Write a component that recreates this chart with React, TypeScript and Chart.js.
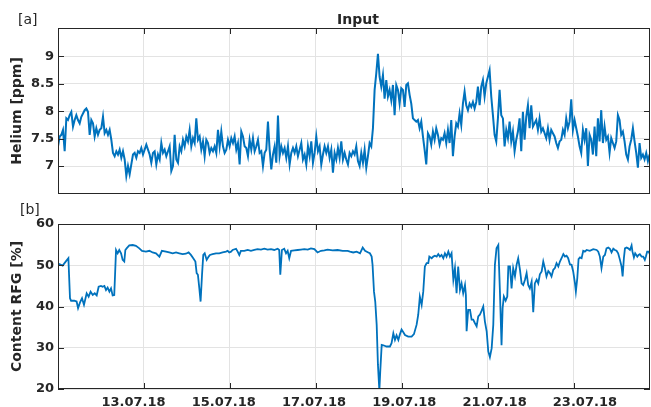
import React, { useEffect, useRef } from 'react';
import { Chart, registerables } from 'chart.js';

Chart.register(...registerables);

const FONT = '"DejaVu Sans", sans-serif';
const INK = '#262626';
const GRID = '#e3e3e3';
const LINE = '#0072BD';
const TICK_LEN = 6;
const LABEL_SPREAD = 1.05;

// x axis: days since 11.07.18 00:00
const X_MIN_DAYS = 0;
const X_MAX_DAYS = 13.77;
const DATE_TICK_DAYS = [2, 4, 6, 8, 10, 12];
const DATE_LABELS = ['13.07.18', '15.07.18', '17.07.18', '19.07.18', '21.07.18', '23.07.18'];

// [a] Helium, evenly sampled
const HELIUM_TICKS = [7, 7.5, 8, 8.5, 9];
const HELIUM_MIN = 6.49;
const HELIUM_MAX = 9.52;
const HELIUM_STEP_DAYS = 0.03876;
const HELIUM = [
  7.36, 7.54, 7.57, 7.66, 7.27, 7.87, 7.84, 7.93, 7.99, 7.72,
  7.84, 7.93, 7.84, 7.78, 7.90, 7.96, 8.02, 8.05, 7.99, 7.57,
  7.84, 7.78, 7.54, 7.69, 7.57, 7.66, 7.69, 7.90, 7.60, 7.66,
  7.57, 7.66, 7.48, 7.24, 7.18, 7.27, 7.21, 7.30, 7.15, 7.27,
  7.12, 6.82, 7.00, 6.85, 7.03, 7.21, 7.24, 7.15, 7.27, 7.24,
  7.33, 7.21, 7.30, 7.39, 7.30, 7.21, 7.06, 7.24, 7.27, 7.03,
  7.21, 7.12, 7.42, 7.24, 7.30, 7.18, 7.27, 7.36, 6.91, 7.00,
  7.57, 7.12, 7.06, 7.36, 7.27, 7.48, 7.36, 7.54, 7.45, 7.66,
  7.36, 7.51, 7.42, 7.87, 7.48, 7.54, 7.30, 7.45, 7.18, 7.48,
  7.42, 7.24, 7.33, 7.27, 7.36, 7.24, 7.66, 7.36, 7.63, 7.36,
  7.24, 7.30, 7.48, 7.36, 7.51, 7.42, 7.54, 7.30, 7.42, 7.03,
  7.63, 7.54, 7.36, 7.33, 7.18, 7.48, 7.30, 7.51, 7.27, 7.36,
  7.48, 7.24, 7.27, 7.00, 7.24, 7.30, 7.81, 7.30, 6.94, 7.21,
  7.36, 7.06, 7.92, 7.18, 7.36, 7.24, 7.33, 7.15, 7.36, 7.03,
  7.24, 7.33, 7.24, 7.36, 7.18, 7.30, 7.42, 7.12, 7.21, 7.03,
  7.36, 7.18, 7.45, 7.06, 7.24, 7.54, 7.27, 7.36, 7.03, 7.21,
  7.36, 7.24, 7.36, 7.15, 7.30, 6.88, 7.24, 7.12, 7.33, 7.15,
  7.45, 7.12, 7.24, 7.12, 7.03, 7.24, 7.18, 7.27, 7.21,
  7.36, 7.09, 7.00, 7.24, 7.06, 7.30, 6.97, 7.18, 7.42, 7.36,
  7.69, 8.39, 8.69, 9.05, 8.63, 8.45, 8.66, 8.23, 8.57, 8.27,
  8.39, 8.20, 8.48, 7.93, 8.48, 8.39, 8.14, 8.42, 8.39, 8.08,
  8.48, 8.51, 8.30, 8.14, 7.87, 7.84, 7.81, 7.84, 7.69, 7.81,
  7.54, 7.30, 7.03, 7.60, 7.54, 7.39, 7.63, 7.48, 7.69, 7.57,
  7.39, 7.51, 7.48, 7.60, 7.42, 7.66, 7.42, 7.84, 7.18, 7.54,
  7.78, 7.72, 7.96, 7.75, 8.14, 8.36, 8.11, 8.02, 8.14, 8.08,
  8.17, 8.05, 8.17, 8.45, 8.11, 8.45, 8.57, 8.27, 8.51, 8.63,
  8.75, 8.27, 7.93, 7.57, 7.45, 7.87, 8.39, 7.93, 7.87,
  7.36, 7.66, 7.51, 7.81, 7.45, 7.63, 7.27, 7.48, 7.63, 7.87,
  7.27, 7.99, 7.48, 7.90, 8.11, 7.69, 8.11, 7.72, 7.78, 7.84,
  7.66, 7.87, 7.63, 7.69, 7.60, 7.51, 7.69, 7.48, 7.66, 7.60,
  7.54, 7.42, 7.33, 7.45, 7.48, 7.66, 7.57, 7.87, 7.69, 7.81,
  8.22, 7.66, 7.84, 7.69, 7.54, 7.36, 7.24, 7.66, 7.48, 7.69,
  7.00, 7.57, 7.48, 7.21, 7.72, 7.18, 7.87, 7.45, 8.02, 7.42,
  7.72, 7.48, 7.54, 7.24, 7.51, 7.42, 7.33, 7.45, 7.93, 7.84,
  7.57, 7.63, 7.45, 7.21, 7.12, 7.36, 7.48, 7.69, 7.45, 7.24,
  6.97, 7.42, 7.15, 7.21, 7.12, 7.24, 7.09, 7.21,
];

// [b] Content RFG, hours since 11.07.18 00:00
const RFG_TICKS = [20, 30, 40, 50, 60];
const RFG_MIN = 20;
const RFG_MAX = 60;
const RFG_HOURS = [
  0, 0.7, 2.6, 4.5, 5.8, 6.7, 7.3, 9.1, 10.4, 11.2,
  12.3, 13.4, 14.5, 16.0, 17.1, 18.2, 19.4, 20.5, 21.6, 22.7,
  24.0, 24.9, 25.9, 26.8, 27.7, 28.7, 29.6, 30.5, 31.4, 32.4,
  33.3, 34.2, 35.2, 36.1, 37.0, 37.6, 38.3, 39.8, 41.7, 43.5,
  45.4, 46.9, 49.1, 51.0, 52.8, 54.7, 56.6, 58.0, 60.3, 62.1,
  64.0, 65.9, 67.7, 69.6, 71.4, 72.9, 74.2, 75.5, 76.7, 77.4,
  78.1, 78.9, 79.6, 80.4, 81.1, 81.9, 83.0, 84.1, 84.8, 86.3,
  88.2, 90.0, 91.9, 93.8, 94.7, 95.6, 96.6, 97.5, 99.4, 100.3,
  101.2, 102.1, 104.0, 105.9, 107.7, 109.6, 111.4, 113.3, 115.2, 117.0,
  118.9, 120.7, 122.6, 123.5, 124.1, 125.0, 126.3, 127.3, 128.2, 129.1,
  130.1, 131.9, 133.8, 135.6, 137.5, 139.4, 141.2, 143.1, 144.9, 146.8,
  148.7, 150.5, 153.3, 156.1, 158.9, 161.7,
  163.0, 164.8, 166.7, 168.6, 170.1, 171.4, 173.2, 174.1, 175.1, 175.6,
  176.4, 177.1, 177.9, 178.6, 179.4, 179.9, 180.7, 181.6, 183.4, 185.3,
  186.2, 187.2, 188.1, 189.0, 190.0, 190.9, 191.8, 192.7, 193.7, 195.5,
  197.4, 198.7, 200.2, 201.1, 202.0, 203.0, 203.9, 204.8, 205.8, 206.7,
  207.3, 208.6, 209.5, 210.4, 211.4, 212.3, 213.2, 214.1, 215.1, 216.0,
  216.9, 217.9, 218.8, 219.7, 220.7, 221.6, 222.5, 223.4, 224.4, 225.3,
  226.2, 227.2, 227.7, 228.1, 229.0, 230.0, 230.9, 231.8, 232.7, 233.7,
  234.6, 235.5, 236.5, 237.4, 238.3, 239.3, 240.2, 241.1, 242.1, 243.0,
  243.9, 244.8, 245.8, 246.7, 247.6, 248.2, 248.9, 249.9, 250.8, 251.4,
  252.3, 253.2, 254.1, 255.1, 256.0, 256.9, 257.9, 258.8, 259.7, 260.7,
  261.6, 262.5, 263.4, 264.4, 265.3, 266.2, 267.2, 268.1, 269.0, 270.0,
  270.9, 271.8, 272.7, 273.7, 274.6, 275.5, 276.5, 277.4, 278.3, 279.3,
  280.2, 281.1, 282.1, 283.0, 283.9, 284.8, 285.8, 286.7, 287.6, 288.6,
  289.1, 289.9, 290.6, 291.4, 292.3, 293.2, 294.1, 295.1, 296.9, 298.8,
  300.7, 301.6, 302.5, 303.4, 304.4, 305.3, 306.2, 307.2, 308.1, 309.0,
  310.0, 310.9, 311.8, 312.7, 313.7, 314.6, 315.2, 315.9, 316.5, 317.4,
  318.3, 319.3, 320.2, 320.7, 321.5, 322.2, 323.4, 324.1, 324.8, 325.8,
  326.7, 327.6, 328.2, 328.9, 329.7, 330.6,
];
const RFG = [
  50.5, 50.3, 49.9, 51.0, 51.7, 42.0, 41.4, 41.4, 41.2, 39.6,
  41.0, 42.0, 40.4, 43.2, 42.4, 43.6, 42.8, 43.2, 42.7, 44.8,
  45.0, 44.8, 45.0, 44.0, 44.6, 43.6, 44.4, 42.7, 42.8, 53.7,
  52.9, 53.7, 52.9, 51.3, 50.9, 53.7, 54.1, 54.8, 54.9, 54.7,
  54.1, 53.5, 53.3, 53.5, 53.1, 52.9, 52.1, 53.5, 53.3, 53.1,
  52.9, 53.1, 52.9, 52.7, 52.8, 53.1, 52.5, 51.7, 50.9, 48.1,
  47.7, 44.4, 41.2, 47.7, 52.5, 52.9, 51.3, 52.1, 52.5, 52.7,
  52.9, 52.9, 53.1, 53.3, 53.5, 53.1, 53.3, 53.7, 54.0, 53.3,
  52.5, 53.5, 53.5, 53.7, 53.5, 53.7, 53.9, 53.8, 54.0, 53.8,
  53.9, 53.7, 54.0, 53.7, 47.7, 53.7, 54.0, 52.9, 53.5, 51.7,
  53.5, 53.6, 53.7, 53.8, 53.9, 53.8, 54.1, 53.9, 53.1, 53.5,
  53.6, 53.8, 53.6, 53.7, 53.5, 53.5,
  53.3, 53.1, 53.3, 52.9, 54.3, 53.5, 53.1, 52.9, 52.1, 50.1,
  43.6, 41.2, 35.6, 25.9, 19.6, 24.3, 30.7, 30.6, 30.3, 30.3,
  31.1, 33.5, 31.9, 33.0, 31.9, 33.3, 34.4, 33.8, 33.1, 32.7,
  32.7, 33.3, 35.6, 38.0, 42.4, 40.4, 43.6, 49.7, 50.5, 50.5,
  52.1, 51.7, 52.1, 52.3, 52.1, 52.7, 52.1, 52.5, 51.7, 52.9,
  52.1, 53.3, 52.1, 52.9, 46.5, 49.3, 43.2, 49.7, 44.0, 45.6,
  43.2, 45.2, 42.8, 34.0, 39.2, 39.2, 36.8, 36.8, 36.0, 35.2,
  37.6, 38.0, 39.0, 40.0, 36.4, 34.0, 29.1, 27.7, 29.9, 35.6,
  50.1, 54.1, 54.9, 43.6, 30.6, 39.6, 42.4, 41.4, 42.4, 49.7,
  49.7, 44.4, 49.3, 47.3, 50.1, 51.7, 48.9, 45.6, 45.2, 46.5,
  48.1, 45.2, 44.4, 46.0, 38.6, 45.6, 46.5, 45.6, 47.8, 48.5,
  50.9, 49.3, 47.3, 48.6, 48.1, 47.3, 48.9, 49.3, 50.5, 49.7,
  50.9, 51.7, 52.7, 52.1, 52.3, 51.7, 50.2, 50.1, 48.5, 45.6,
  43.6, 46.9, 51.5, 51.9, 51.7, 53.5, 53.3, 53.7, 53.5, 53.9,
  53.7, 53.3, 52.1, 49.3, 52.1, 52.5, 54.1, 54.3, 54.0, 53.1,
  54.0, 53.7, 53.5, 52.9, 51.3, 49.7, 47.3, 51.7, 54.1, 54.3,
  54.1, 53.7, 54.8, 53.3, 51.9, 52.9, 52.1, 52.5, 52.7, 52.1,
  52.1, 51.3, 52.1, 53.3, 53.3, 52.5,
];

type FrameOpts = {
  tag: string;
  tagX: number;
  tagBaseline: number;
  title?: string;
  titleDx?: number;
  titleBaseline?: number;
  dateLabels: boolean;
  labelBaseline?: number;
};

function makeFrame(o: FrameOpts) {
  return {
    id: 'frame',
    afterDatasetsDraw(chart: any) {
      const { ctx, chartArea: a, scales } = chart;
      const xs = scales.x;
      const ys = scales.y;
      ctx.save();
      ctx.strokeStyle = INK;
      ctx.lineWidth = 1;
      ctx.beginPath();
      for (const t of xs.ticks) {
        const px = Math.round(xs.getPixelForValue(t.value)) + 0.5;
        ctx.moveTo(px, a.top);
        ctx.lineTo(px, a.top + TICK_LEN);
        ctx.moveTo(px, a.bottom);
        ctx.lineTo(px, a.bottom - TICK_LEN);
      }
      for (const t of ys.ticks) {
        const py = Math.round(ys.getPixelForValue(t.value)) + 0.5;
        ctx.moveTo(a.left, py);
        ctx.lineTo(a.left + TICK_LEN, py);
        ctx.moveTo(a.right, py);
        ctx.lineTo(a.right - TICK_LEN, py);
      }
      ctx.stroke();
      ctx.strokeRect(a.left + 0.5, a.top + 0.5, a.right - a.left - 1, a.bottom - a.top - 1);

      ctx.fillStyle = INK;
      ctx.textBaseline = 'alphabetic';
      ctx.textAlign = 'left';
      ctx.font = `14px ${FONT}`;
      ctx.fillText(o.tag, o.tagX, o.tagBaseline);

      const cx = (a.left + a.right) / 2;
      if (o.title) {
        ctx.textAlign = 'center';
        ctx.font = `bold 14px ${FONT}`;
        ctx.fillText(o.title, cx + (o.titleDx || 0), o.titleBaseline || 0);
      }
      if (o.dateLabels) {
        ctx.textAlign = 'center';
        ctx.font = `bold 13px ${FONT}`;
        DATE_TICK_DAYS.forEach((d, i) => {
          const px = xs.getPixelForValue(d);
          ctx.fillText(DATE_LABELS[i], cx + (px - cx) * LABEL_SPREAD, o.labelBaseline || 0);
        });
      }
      ctx.restore();
    },
  };
}

type PanelOpts = {
  points: { x: number; y: number }[];
  yMin: number;
  yMax: number;
  yTicks: number[];
  yTitle: string;
  padTop: number;
  xAxisH: number;
  lineWidth: number;
  frame: FrameOpts;
};

function makeConfig(p: PanelOpts): any {
  return {
    type: 'line',
    data: {
      datasets: [
        {
          data: p.points,
          borderColor: LINE,
          borderWidth: p.lineWidth,
          pointRadius: 0,
          tension: 0,
          fill: false,
        },
      ],
    },
    options: {
      animation: false,
      responsive: false,
      devicePixelRatio: 1,
      events: [],
      layout: { padding: { top: p.padTop, right: 1, bottom: 0, left: 0 } },
      plugins: {
        legend: { display: false },
        tooltip: { enabled: false },
        title: { display: false },
      },
      scales: {
        x: {
          type: 'linear',
          min: X_MIN_DAYS,
          max: X_MAX_DAYS,
          afterBuildTicks: (s: any) => {
            s.ticks = DATE_TICK_DAYS.map((v) => ({ value: v }));
          },
          afterFit: (s: any) => {
            s.height = p.xAxisH;
          },
          grid: { color: GRID, lineWidth: 1, drawTicks: false },
          border: { display: false },
          ticks: { display: false },
        },
        y: {
          type: 'linear',
          min: p.yMin,
          max: p.yMax,
          afterBuildTicks: (s: any) => {
            s.ticks = p.yTicks.map((v) => ({ value: v }));
          },
          afterFit: (s: any) => {
            s.width = 58;
          },
          grid: { color: GRID, lineWidth: 1, drawTicks: false },
          border: { display: false },
          ticks: {
            color: INK,
            padding: 4,
            font: { family: FONT, size: 13, weight: 'bold' },
            callback: (v: any) => String(v),
          },
          title: {
            display: true,
            text: p.yTitle,
            color: INK,
            font: { family: FONT, size: 14, weight: 'bold', lineHeight: 1.2 },
            padding: { top: 9, bottom: 0 },
          },
        },
      },
    },
    plugins: [makeFrame(p.frame)],
  };
}

export default function App() {
  const topRef = useRef<HTMLCanvasElement>(null);
  const botRef = useRef<HTMLCanvasElement>(null);

  useEffect(() => {
    const heliumPts = HELIUM.map((v, i) => ({ x: i * HELIUM_STEP_DAYS, y: v }));
    const rfgPts = RFG.map((v, i) => ({ x: RFG_HOURS[i] / 24, y: v }));

    const top = new Chart(
      topRef.current as HTMLCanvasElement,
      makeConfig({
        points: heliumPts,
        yMin: HELIUM_MIN,
        yMax: HELIUM_MAX,
        yTicks: HELIUM_TICKS,
        yTitle: 'Helium [ppm]',
        padTop: 28,
        xAxisH: 14,
        lineWidth: 2,
        frame: {
          tag: '[a]',
          tagX: 18,
          tagBaseline: 24,
          title: 'Input',
          titleDx: 4,
          titleBaseline: 23.5,
          dateLabels: false,
        },
      })
    );
    const bot = new Chart(
      botRef.current as HTMLCanvasElement,
      makeConfig({
        points: rfgPts,
        yMin: RFG_MIN,
        yMax: RFG_MAX,
        yTicks: RFG_TICKS,
        yTitle: 'Content RFG [%]',
        padTop: 28,
        xAxisH: 18,
        lineWidth: 1.8,
        frame: {
          tag: '[b]',
          tagX: 20,
          tagBaseline: 18,
          dateLabels: true,
          labelBaseline: 210,
        },
      })
    );
    return () => {
      top.destroy();
      bot.destroy();
    };
  }, []);

  return (
    <div style={{ position: 'absolute', left: 0, top: 0, width: 651, height: 407, background: '#fff', overflow: 'hidden' }}>
      <canvas ref={topRef} width={651} height={208} style={{ position: 'absolute', left: 0, top: 0 }} />
      <canvas ref={botRef} width={651} height={211} style={{ position: 'absolute', left: 0, top: 196 }} />
    </div>
  );
}
